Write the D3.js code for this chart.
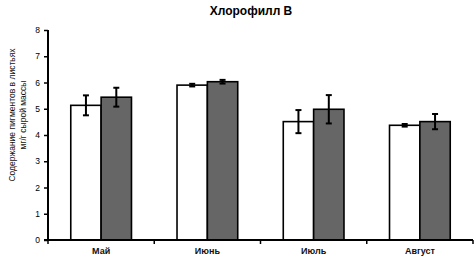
<!DOCTYPE html>
<html><head><meta charset="utf-8">
<script src="https://cdn.jsdelivr.net/npm/d3@7"></script>
<style>body{margin:0;background:#fff}svg{display:block}</style>
</head><body>
<svg id="c" width="476" height="264"></svg>
<script>
const categories = ["Май", "Июнь", "Июль", "Август"];
const series1 = [5.13, 5.90, 4.51, 4.37];
const err1 = [0.38, 0.05, 0.44, 0.05];
const series2 = [5.44, 6.03, 4.98, 4.51];
const err2 = [0.36, 0.07, 0.54, 0.29];
const yTicks = [0,1,2,3,4,5,6,7,8];
const title = "Хлорофилл В";
const yLabel1 = "Содержание пигментов в листьях";
const yLabel2 = "мг/г сырой массы";

const svg = d3.select("#c");
const x0 = 48, x1 = 473, yTop = 30, yBot = 240;
const x = d3.scaleBand().domain(categories).range([x0, x1]).paddingInner(0).paddingOuter(0);
const y = d3.scaleLinear().domain([0, 8]).range([yBot, yTop]);
const inner = d3.scaleBand().domain([0,1]).range([0, x.bandwidth()]).paddingOuter(0.75).paddingInner(0);

const font = "Liberation Sans, Arial, sans-serif";

svg.append("text").attr("x", 251).attr("y", 15).attr("text-anchor","middle")
  .attr("font-family", font).attr("font-weight","bold").attr("font-size", 12).text(title);

const yl = svg.append("g").attr("transform","translate(15,115) rotate(-90)")
  .attr("font-family", font).attr("font-size", 8.5).attr("fill","#111").attr("text-anchor","middle");
yl.append("text").attr("y", 0).text(yLabel1);
yl.append("text").attr("y", 11).text(yLabel2);

// bars
const data = categories.map((c,i)=>[{c, k:0, v:series1[i], e:err1[i]},{c, k:1, v:series2[i], e:err2[i]}]).flat();
const g = svg.append("g");
g.selectAll("rect").data(data).join("rect")
  .attr("x", d => x(d.c) + inner(d.k))
  .attr("y", d => y(d.v))
  .attr("width", inner.bandwidth())
  .attr("height", d => y(0) - y(d.v))
  .attr("fill", d => d.k ? "#666666" : "#ffffff")
  .attr("stroke", "#000").attr("stroke-width", 1.6);

// error bars
const eb = g.selectAll("g.eb").data(data).join("g").attr("class","eb")
  .attr("transform", d => `translate(${x(d.c) + inner(d.k) + inner.bandwidth()/2},0)`);
eb.append("line").attr("y1", d=>y(d.v+d.e)).attr("y2", d=>y(d.v-d.e)).attr("stroke","#000").attr("stroke-width",2);
eb.append("line").attr("x1",-3).attr("x2",3).attr("y1", d=>y(d.v+d.e)).attr("y2", d=>y(d.v+d.e)).attr("stroke","#000").attr("stroke-width",2);
eb.append("line").attr("x1",-3).attr("x2",3).attr("y1", d=>y(d.v-d.e)).attr("y2", d=>y(d.v-d.e)).attr("stroke","#000").attr("stroke-width",2);

// y axis
const yAxis = svg.append("g").attr("transform", `translate(${x0},0)`)
  .call(d3.axisLeft(y).tickValues(yTicks).tickSize(4).tickPadding(4).tickFormat(d3.format("d")));
yAxis.select(".domain").attr("stroke-width", 2).attr("d", `M0,${yTop}V${yBot}`);
yAxis.selectAll(".tick line").attr("stroke-width", 1.5);
yAxis.selectAll("text").attr("font-family", font).attr("font-size", 8.5).attr("fill","#000");

// x axis
const boundaries = categories.map(c => x(c)).concat([x1]);
const xAxis = svg.append("g").attr("transform", `translate(0,${yBot})`)
  .call(d3.axisBottom(x).tickSize(0).tickPadding(8));
xAxis.select(".domain").attr("stroke-width", 2).attr("d", `M${x0-4},0H${x1}`);
xAxis.selectAll("text").attr("font-family", font).attr("font-size", 9).attr("font-weight","bold").attr("fill","#111");
xAxis.selectAll(".btick").data(boundaries).join("line").attr("class","btick")
  .attr("x1", d=>d).attr("x2", d=>d).attr("y1", 0).attr("y2", 4).attr("stroke","#000").attr("stroke-width",1.5);
</script>
</body></html>
